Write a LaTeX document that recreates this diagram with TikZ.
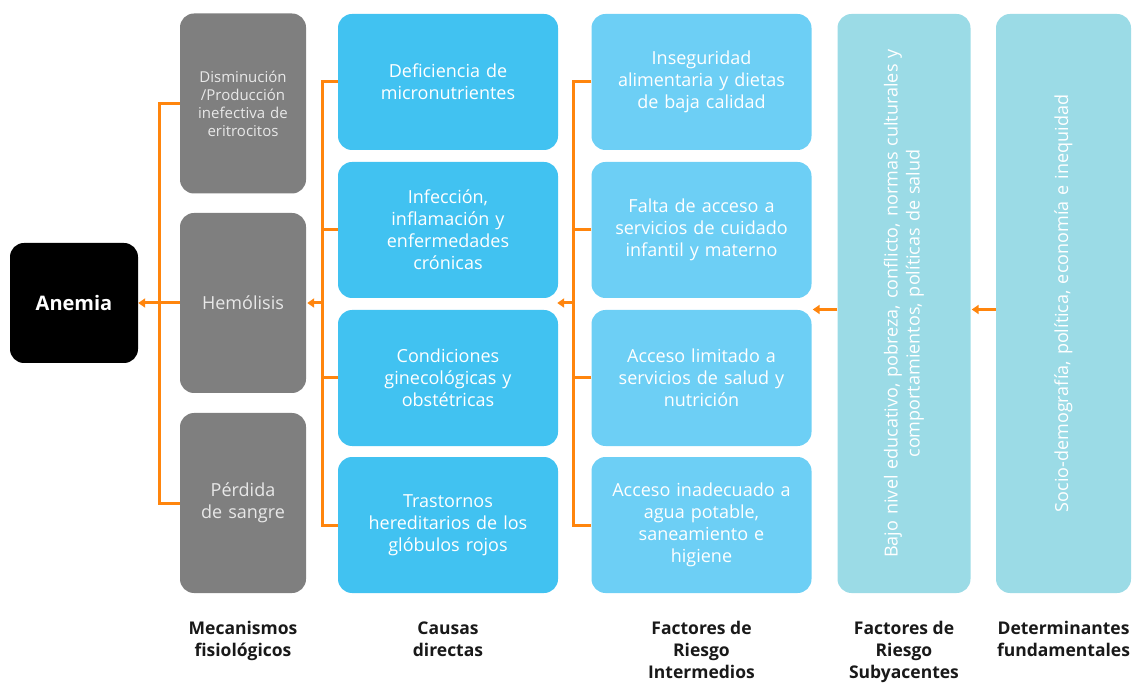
\documentclass[tikz,border=0pt]{standalone}
\usepackage{fontspec}
\setmainfont{Open Sans}
\usepackage{tikz}
\usetikzlibrary{arrows.meta, positioning}
\definecolor{mygray}{RGB}{127,127,127}
\definecolor{mysilver}{RGB}{232,232,232}
\definecolor{myblue}{RGB}{65,194,241}
\definecolor{mylight}{RGB}{109,207,245}
\definecolor{mypale}{RGB}{155,219,230}
\definecolor{myorange}{RGB}{255,133,13}
\tikzset{>=stealth, font=\fontsize{18}{22}\selectfont}

\begin{document}
\begin{tikzpicture}[x=1pt, y=-1pt,
  mybox/.style 2 args={
    rectangle,
    rounded corners=14pt,
    fill=#1,
    text=#2,
    align=center,
    inner sep=0pt
  },
  mech/.style={
    mybox={mygray}{mysilver},
    minimum width=126pt,
    minimum height=180pt,
    text width=116pt
  },
  cause/.style={
    mybox={#1}{white},
    minimum width=220pt,
    minimum height=136pt,
    text width=210pt
  },
  tall/.style={
    mybox={mypale}{white},
    minimum width=579pt,
    minimum height=133pt,
    text width=570pt,
    rotate=90
  },
  caption/.style={
    align=center,
    inner sep=0pt,
    text=black!90,
    font=\bfseries\fontsize{17.5}{22}\selectfont,
    below=28pt of #1
  },
  wire/.style={
    draw=myorange,
    line width=3pt
  },
  arr/.style={
    wire,
    -{Triangle[length=7pt,width=9pt]}
  }
]
\useasboundingbox (0,0) rectangle (1138,684);

%the result
\node[mybox={black}{white}, minimum width=128pt, minimum height=120pt,
  font=\bfseries\fontsize{20}{22}\selectfont] (anemia) at (74,303) {Anemia};

%the mechanisms
\node[mech, font=\fontsize{15}{18}\selectfont] (mec1) at (243,103.5)
  {Disminución\\/Producción\\inefectiva de\\eritrocitos};
\node[mech] (mec2) at (243,303) {Hemólisis};
\node[mech] (mec3) at (243,503) {Pérdida\\de sangre};

%the direct causes
\node[cause=myblue] (dc1) at (448,82) {Deficiencia de\\micronutrientes};
\node[cause=myblue] (dc2) at (448,230) {Infección,\\inflamación y\\enfermedades\\crónicas};
\node[cause=myblue] (dc3) at (448,378) {Condiciones\\ginecológicas y\\obstétricas};
\node[cause=myblue] (dc4) at (448,525) {Trastornos\\hereditarios de los\\glóbulos rojos};

%the intermediate risk factors
\node[cause=mylight] (ri1) at (701.5,82) {Inseguridad\\alimentaria y dietas\\de baja calidad};
\node[cause=mylight] (ri2) at (701.5,230) {Falta de acceso a\\servicios de cuidado\\infantil y materno};
\node[cause=mylight] (ri3) at (701.5,378) {Acceso limitado a\\servicios de salud y\\nutrición};
\node[cause=mylight] (ri4) at (701.5,525) {Acceso inadecuado a\\agua potable,\\saneamiento e\\higiene};

%the underlying and fundamental factors
\node[tall] (sub) at (904,303.5)
  {Bajo nivel educativo, pobreza, conflicto, normas culturales y\\comportamientos, políticas de salud};
\node[tall, minimum height=135pt] (det) at (1063.5,303.5)
  {Socio-demografía, política, economía e inequidad};

%the connectors
\coordinate (bus1) at (159,303);
\draw[wire] (mec1.west) -| (bus1) |- (mec3.west);
\draw[arr] (mec2.west) -- (anemia.east);

\coordinate (bus2) at (322,303);
\draw[wire] (dc1.west) -| (bus2) |- (dc4.west);
\draw[wire] (dc2.west) -- (dc2.west -| bus2);
\draw[wire] (dc3.west) -- (dc3.west -| bus2);
\draw[arr] (bus2) -- ([xshift=1pt]mec2.east);

\coordinate (bus3) at (573,303);
\draw[wire] (ri1.west) -| (bus3) |- (ri4.west);
\draw[wire] (ri2.west) -- (ri2.west -| bus3);
\draw[wire] (ri3.west) -- (ri3.west -| bus3);
\draw[arr] (bus3) -- ([xshift=-1pt]bus3 -| dc1.east);

\draw[arr] ([yshift=-6pt]sub.north) -- ([yshift=-6pt,xshift=1pt]sub.north -| ri1.east);
\draw[arr] ([yshift=-6pt]det.north) -- ([yshift=-6pt,xshift=1pt]det.north -| sub.south);

%the column captions
\node[caption=mec3] (cap1) {Mecanismos\\fisiológicos};
\node[caption=dc4] (cap2) {Causas\\directas};
\node[caption=ri4] (cap3) {Factores de\\Riesgo\\Intermedios};
\node[caption=sub.west] (cap4) {Factores de\\Riesgo\\Subyacentes};
\node[caption=det.west] (cap5) {Determinantes\\fundamentales};

\end{tikzpicture}
\end{document}
